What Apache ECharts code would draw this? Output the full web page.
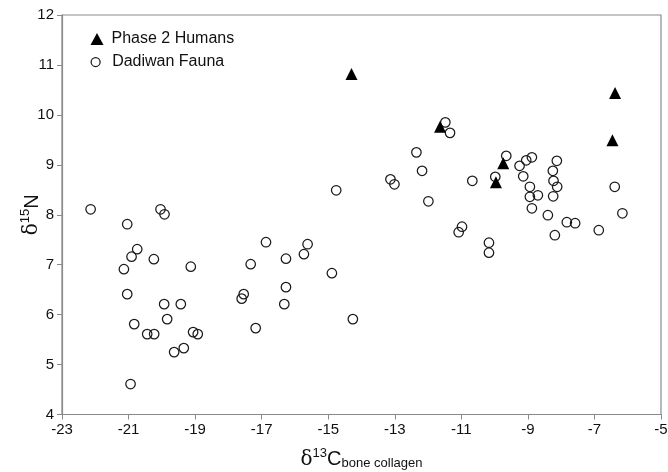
<!DOCTYPE html>
<html>
<head>
<meta charset="utf-8">
<script src="https://cdn.jsdelivr.net/npm/echarts@6/dist/echarts.min.js"></script>
<style>
html,body{margin:0;padding:0;background:#fff;}
#c{width:668px;height:472px;}
</style>
</head>
<body>
<div id="c"></div>
<script>
const xTicks = [-23, -21, -19, -17, -15, -13, -11, -9, -7, -5];
const yTicks = [4, 5, 6, 7, 8, 9, 10, 11, 12];

const humanX = [-14.30, -11.64, -9.74, -9.96, -6.38, -6.46];
const humanY = [10.82, 9.76, 9.03, 8.65, 10.44, 9.49];

const faunaX = [-22.14, -21.04, -20.04, -19.92, -20.74, -20.91, -21.14, -20.24, -19.13, -16.87,
  -17.33, -17.54, -17.60, -17.18, -21.04, -19.93, -19.43, -19.84, -20.83, -20.44,
  -20.23, -19.06, -18.92, -19.34, -19.63, -20.94, -15.62, -15.73, -16.27, -14.89,
  -16.27, -16.32, -14.26, -14.76, -13.13, -13.01, -11.48, -11.34, -12.35, -12.18,
  -11.99, -10.67, -9.65, -9.98, -9.25, -9.05, -8.88, -9.14, -8.94, -8.94,
  -8.70, -8.88, -8.13, -8.25, -8.23, -8.12, -8.24, -8.40, -8.19, -7.83,
  -7.58, -6.87, -6.39, -6.16, -10.98, -11.08, -10.17, -10.17];
const faunaY = [8.11, 7.81, 8.11, 8.01, 7.31, 7.16, 6.91, 7.11, 6.96, 7.45,
  7.01, 6.41, 6.32, 5.73, 6.41, 6.21, 6.21, 5.91, 5.81, 5.61,
  5.61, 5.65, 5.61, 5.33, 5.25, 4.61, 7.41, 7.21, 7.12, 6.83,
  6.55, 6.21, 5.91, 8.49, 8.71, 8.61, 9.85, 9.64, 9.25, 8.88,
  8.27, 8.68, 9.18, 8.76, 8.98, 9.09, 9.15, 8.77, 8.56, 8.36,
  8.39, 8.13, 9.08, 8.88, 8.68, 8.56, 8.37, 7.99, 7.59, 7.85,
  7.83, 7.69, 8.56, 8.03, 7.76, 7.65, 7.44, 7.24];

const seriesNames = ['Phase 2 Humans', 'Dadiwan Fauna'];

const FONT = '"Liberation Sans", Arial, Helvetica, sans-serif';
const axisGray = '#8a8a8a';
const circleStyle = {color: 'rgba(0,0,0,0)', borderColor: '#1a1a1a', borderWidth: 1.25, opacity: 1};

const chart = echarts.init(document.getElementById('c'), null, {renderer: 'canvas'});
chart.setOption({
  animation: false,
  backgroundColor: '#fff',
  textStyle: {fontFamily: FONT},
  grid: {left: 62, right: 7, top: 15, bottom: 57.5, show: true, borderColor: axisGray, borderWidth: 1.2,
    containLabel: false, outerBoundsMode: 'none'},
  legend: [
    {
      orient: 'vertical', left: 90.5, top: 31, padding: 0,
      itemWidth: 13, itemHeight: 12,
      textStyle: {fontSize: 16, color: '#111', fontFamily: FONT, padding: [0, 0, 0, 3]},
      data: [{name: seriesNames[0], icon: 'triangle', itemStyle: {color: '#000'}}]
    },
    {
      orient: 'vertical', left: 90.5, top: 54, padding: 0,
      itemWidth: 9, itemHeight: 9,
      textStyle: {fontSize: 16, color: '#111', fontFamily: FONT, padding: [0, 0, 0, 7]},
      data: [{name: seriesNames[1], icon: 'circle', itemStyle: circleStyle}]
    }
  ],
  xAxis: {
    type: 'value',
    min: xTicks[0], max: xTicks[xTicks.length - 1], interval: 2,
    axisLine: {show: true, onZero: false, lineStyle: {color: axisGray, width: 1.2}},
    axisTick: {show: true, length: 5, lineStyle: {color: axisGray}},
    axisLabel: {color: '#111', fontSize: 15, margin: 8, fontFamily: FONT},
    splitLine: {show: false},
    name: '{d|δ}{sup|13}{c|C}{sub|bone collagen}',
    nameLocation: 'middle',
    nameMoveOverlap: false,
    nameGap: 29,
    nameTextStyle: {
      rich: {
        d: {fontSize: 20, color: '#111', fontFamily: 'DejaVu Serif, serif', lineHeight: 26, verticalAlign: 'bottom'},
        sup: {fontSize: 13, color: '#111', fontFamily: FONT, lineHeight: 26, verticalAlign: 'top', padding: [3, 0, 0, 0]},
        c: {fontSize: 20, color: '#111', fontFamily: FONT, lineHeight: 26, verticalAlign: 'bottom'},
        sub: {fontSize: 13, color: '#111', fontFamily: FONT, lineHeight: 26, verticalAlign: 'bottom'}
      }
    }
  },
  yAxis: {
    type: 'value',
    min: yTicks[0], max: yTicks[yTicks.length - 1], interval: 1,
    axisLine: {show: true, onZero: false, lineStyle: {color: axisGray, width: 1.2}},
    axisTick: {show: true, length: 5, lineStyle: {color: axisGray}},
    axisLabel: {color: '#111', fontSize: 15, margin: 8, fontFamily: FONT},
    splitLine: {show: false},
    name: '{d|δ}{sup|15}{c|N}',
    nameLocation: 'middle',
    nameMoveOverlap: false,
    nameGap: 20,
    nameRotate: 90,
    nameTextStyle: {
      rich: {
        d: {fontSize: 20, color: '#111', fontFamily: 'DejaVu Serif, serif', lineHeight: 26, verticalAlign: 'bottom'},
        sup: {fontSize: 13, color: '#111', fontFamily: FONT, lineHeight: 26, verticalAlign: 'top', padding: [3, 0, 0, 0]},
        c: {fontSize: 20, color: '#111', fontFamily: FONT, lineHeight: 26, verticalAlign: 'bottom'}
      }
    }
  },
  series: [
    {
      name: seriesNames[1],
      type: 'scatter',
      symbol: 'circle',
      symbolSize: 9.5,
      itemStyle: circleStyle,
      data: faunaX.map((x, i) => [x, faunaY[i]]),
      z: 2
    },
    {
      name: seriesNames[0],
      type: 'scatter',
      symbol: 'triangle',
      symbolSize: 12,
      itemStyle: {color: '#000', opacity: 1},
      data: humanX.map((x, i) => [x, humanY[i]]),
      z: 3
    }
  ]
});
</script>
</body>
</html>
